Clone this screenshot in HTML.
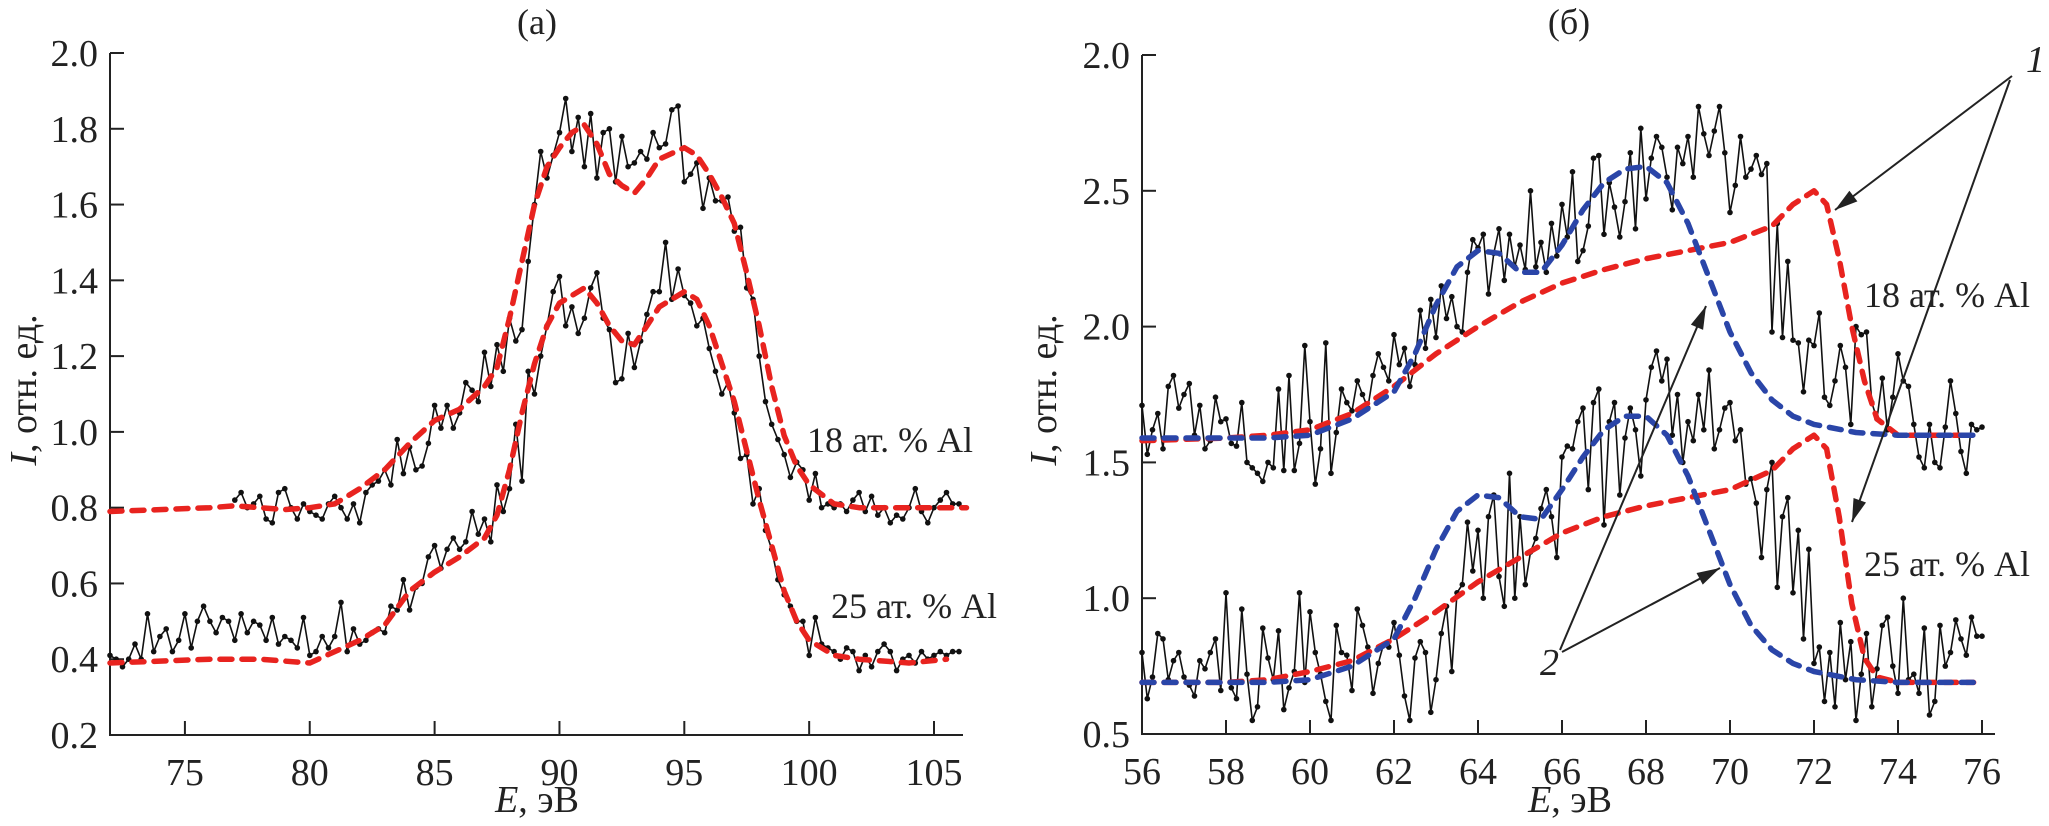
<!DOCTYPE html>
<html><head><meta charset="utf-8">
<style>
html,body{margin:0;padding:0;background:#fff;}
svg{display:block;font-family:"Liberation Serif",serif;}
</style></head>
<body>
<svg id="chart" width="2049" height="826" viewBox="0 0 2049 826" xmlns="http://www.w3.org/2000/svg">
<g id="panelA"></g>
<g id="panelB"></g>
</svg>
<script>
// ---------- Panel (a) data ----------
const aStart18 = 77, aStep = 0.25;
const a18 = [
0.82,0.84,0.80,0.81, 0.83,0.77,0.76,0.84, 0.85,0.80,0.77,0.81, 0.79,0.78,0.77,0.81,
0.83,0.80,0.77,0.81, 0.76,0.84,0.86,0.87, 0.90,0.86,0.98,0.89, 0.96,0.90,0.91,0.97,
1.07,1.01,1.07,1.01, 1.05,1.13,1.11,1.08, 1.21,1.12,1.23,1.16, 1.30,1.24,1.27,1.45,
1.60,1.74,1.67,1.73, 1.79,1.88,1.74,1.83, 1.70,1.84,1.67,1.79, 1.80,1.66,1.78,1.70,
1.71,1.74,1.72,1.79, 1.75,1.76,1.85,1.86, 1.66,1.68,1.71,1.59, 1.67,1.61,1.61,1.62,
1.53,1.54,1.38,1.35, 1.20,1.08,1.02,0.98, 0.94,0.88,0.92,0.90, 0.82,0.89,0.80,0.81,
0.80,0.81,0.79,0.82, 0.84,0.79,0.83,0.78, 0.80,0.76,0.78,0.77, 0.80,0.85,0.79,0.76,
0.80,0.82,0.84,0.81, 0.81];
const aStart25 = 72;
const a25 = [
0.41,0.40,0.38,0.40, 0.44,0.40,0.52,0.42, 0.46,0.48,0.42,0.45, 0.52,0.43,0.50,0.54,
0.50,0.47,0.51,0.50, 0.45,0.52,0.47,0.50, 0.49,0.45,0.51,0.44, 0.46,0.45,0.43,0.51,
0.41,0.42,0.46,0.43, 0.46,0.55,0.42,0.48, 0.44,0.45,0.47,0.48, 0.47,0.54,0.53,0.61,
0.53,0.59,0.60,0.67, 0.70,0.64,0.69,0.72, 0.69,0.71,0.79,0.73, 0.77,0.71,0.86,0.79,
0.85,1.02,0.87,1.16, 1.10,1.20,1.28,1.37, 1.41,1.28,1.33,1.26, 1.30,1.38,1.42,1.30,
1.27,1.13,1.14,1.26, 1.17,1.24,1.31,1.37, 1.37,1.50,1.35,1.43, 1.36,1.34,1.28,1.30,
1.22,1.16,1.10,1.13, 1.05,0.93,0.94,0.81, 0.85,0.74,0.69,0.61, 0.57,0.54,0.50,0.50,
0.41,0.51,0.44,0.43, 0.42,0.40,0.43,0.42, 0.37,0.41,0.38,0.42, 0.44,0.42,0.37,0.40,
0.41,0.39,0.42,0.40, 0.41,0.42,0.41,0.42, 0.42];
const aFit18X = [72,74,76,77,78,79,80,81,82,83,84,85,86,87,87.5,88,88.5,89,89.5,90,90.5,91,91.5,92,92.5,93,93.5,94,95,95.5,96,96.5,97,97.5,98,98.5,99,99.5,100,101,102,104,106.3];
const aFit18Y = [0.79,0.795,0.80,0.805,0.80,0.795,0.80,0.81,0.85,0.90,0.97,1.03,1.06,1.12,1.17,1.30,1.45,1.60,1.70,1.75,1.79,1.81,1.76,1.68,1.65,1.63,1.67,1.72,1.75,1.73,1.68,1.62,1.55,1.42,1.28,1.12,0.99,0.91,0.86,0.81,0.80,0.80,0.80];
const aFit25X = [72,74,76,78,80,81,82,83,84,85,86,87,87.5,88,88.5,89,89.5,90,91,91.5,92,92.5,93,93.5,94,95,95.5,96,96.5,97,97.5,98,98.5,99,99.5,100,101,102,104,105.5];
const aFit25Y = [0.39,0.395,0.40,0.40,0.39,0.42,0.45,0.49,0.58,0.63,0.67,0.72,0.78,0.90,1.05,1.18,1.28,1.34,1.38,1.34,1.28,1.24,1.23,1.28,1.33,1.37,1.35,1.28,1.18,1.08,0.95,0.82,0.70,0.58,0.50,0.45,0.41,0.40,0.39,0.40];
const aXTicks = [75,80,85,90,95,100,105];
const aYTicks = [0.2,0.4,0.6,0.8,1.0,1.2,1.4,1.6,1.8,2.0];
const aYTickLabels = ["0.2","0.4","0.6","0.8","1.0","1.2","1.4","1.6","1.8","2.0"];

// ---------- Panel (б) data ----------
const bStart = 56, bStep = 0.125;
const b18 = [
1.71,1.53,1.62,1.68,1.55,1.78,1.82,1.70, 1.75,1.79,1.60,1.71,1.55,1.58,1.74,1.65,
1.66,1.57,1.56,1.72,1.50,1.48,1.46,1.43, 1.50,1.48,1.77,1.47,1.82,1.47,1.57,1.93,
1.65,1.42,1.55,1.94,1.46,1.61,1.77,1.72, 1.69,1.80,1.75,1.70,1.82,1.90,1.85,1.80,
1.97,1.86,1.92,1.78,1.86,2.06,1.92,2.10, 1.96,2.15,2.03,2.11,2.00,1.98,2.20,2.32,
2.29,2.34,2.12,2.27,2.36,2.17,2.34,2.22, 2.30,2.21,2.50,2.22,2.31,2.20,2.38,2.26,
2.45,2.33,2.57,2.24,2.28,2.37,2.62,2.63, 2.34,2.53,2.44,2.33,2.46,2.64,2.36,2.73,
2.47,2.62,2.70,2.66,2.55,2.43,2.66,2.60, 2.70,2.55,2.81,2.71,2.63,2.72,2.81,2.64,
2.42,2.52,2.70,2.55,2.58,2.63,2.56,2.60, 1.98,2.38,1.96,2.24,1.95,1.94,1.76,1.95,
1.93,2.05,1.74,1.71,1.80,1.93,1.85,1.64, 2.00,1.97,1.98,1.72,1.66,1.81,1.62,1.74,
1.90,1.80,1.78,1.64,1.52,1.48,1.64,1.50, 1.48,1.63,1.80,1.68,1.54,1.46,1.64,1.62, 1.63];
const b25 = [
0.80,0.63,0.71,0.87,0.85,0.70,0.77,0.80, 0.71,0.68,0.64,0.77,0.74,0.80,0.85,0.66,
1.02,0.67,0.63,0.96,0.72,0.55,0.60,0.89, 0.78,0.70,0.88,0.59,0.67,0.73,1.02,0.69,
0.95,0.80,0.72,0.62,0.55,0.90,0.80,0.79, 0.66,0.96,0.90,0.82,0.65,0.76,0.83,0.82,
0.91,0.79,0.64,0.55,0.78,0.84,0.80,0.58, 0.70,0.87,0.97,0.73,1.02,1.05,1.28,1.10,
1.25,1.00,1.30,1.38,1.08,0.97,1.46,1.00, 1.30,1.05,1.17,1.22,1.33,1.40,1.30,1.15,
1.52,1.56,1.55,1.65,1.70,1.40,1.72,1.77, 1.27,1.65,1.72,1.38,1.59,1.70,1.62,1.45,
1.73,1.85,1.91,1.80,1.88,1.60,1.75,1.50, 1.65,1.58,1.75,1.62,1.84,1.55,1.62,1.70,
1.72,1.58,1.62,1.42,1.44,1.35,1.15,1.40, 1.50,1.04,1.30,1.37,1.02,1.25,0.85,1.18,
0.76,0.82,0.62,0.80,0.60,0.91,0.70,0.84, 0.55,0.72,0.87,0.60,0.74,0.90,0.93,0.75,
0.65,1.00,0.70,0.72,0.65,0.89,0.57,0.62, 0.90,0.75,0.80,0.92,0.85,0.79,0.93,0.86, 0.86];
const bRed18X = [56,58,59,60,61,62,63,64,65,66,67,68,69,70,71,71.5,72,72.3,72.6,72.9,73.2,73.5,74,75,75.8];
const bRed18Y = [1.58,1.59,1.60,1.62,1.68,1.78,1.90,2.00,2.09,2.16,2.21,2.25,2.28,2.31,2.37,2.45,2.50,2.45,2.25,2.00,1.80,1.66,1.60,1.60,1.60];
const bBlue18X = [56,59,60,61,62,62.5,63,63.5,64,64.5,65,65.5,66,66.5,67,67.5,68,68.5,69,69.5,70,70.5,71,71.5,72,73,74,75.8];
const bBlue18Y = [1.59,1.59,1.60,1.66,1.76,1.90,2.08,2.22,2.28,2.27,2.20,2.20,2.30,2.43,2.53,2.58,2.59,2.53,2.38,2.18,1.98,1.83,1.73,1.67,1.64,1.61,1.60,1.60];
const bRed25X = [56,58,59,60,61,62,63,64,65,66,67,68,69,70,71,71.5,72,72.3,72.6,72.9,73.2,73.5,74,75.8];
const bRed25Y = [0.69,0.69,0.70,0.73,0.77,0.85,0.95,1.06,1.15,1.24,1.30,1.34,1.37,1.40,1.47,1.55,1.60,1.55,1.30,0.98,0.78,0.71,0.69,0.69];
const bBlue25X = [56,59,60,61,62,62.5,63,63.5,64,64.5,65,65.5,66,66.5,67,67.5,68,68.5,69,69.5,70,70.5,71,71.5,72,73,74,75.8];
const bBlue25Y = [0.69,0.69,0.70,0.75,0.85,1.00,1.18,1.32,1.38,1.37,1.30,1.29,1.40,1.52,1.62,1.67,1.67,1.60,1.45,1.25,1.05,0.90,0.81,0.76,0.73,0.70,0.69,0.69];
const bXTicks = [56,58,60,62,64,66,68,70,72,74,76];
const bYTicks = [0.5,1.0,1.5,2.0,2.5,3.0];
const bYTickLabels = ["0.5","1.0","1.5","2.0","2.5","2.0"];

const NS = "http://www.w3.org/2000/svg";
function mk(parent, tag, attrs, text){
  const el = document.createElementNS(NS, tag);
  for (const k in attrs) el.setAttribute(k, attrs[k]);
  if (text !== undefined) el.textContent = text;
  parent.appendChild(el);
  return el;
}
function pathFrom(xs, ys, sx, sy){
  return xs.map((x,i)=>(i?"L":"M")+sx(x).toFixed(1)+","+sy(ys[i]).toFixed(1)).join(" ");
}
function drawData(g, start, step, vals, sx, sy, name){
  const xs = vals.map((v,i)=>start+i*step);
  const p = mk(g,"path",{d:pathFrom(xs,vals,sx,sy),fill:"none",stroke:"#111","stroke-width":1.6});
  
  
  vals.forEach((v,i)=>{
    const c = mk(g,"circle",{cx:sx(xs[i]).toFixed(1),cy:sy(v).toFixed(1),r:2.8,fill:"#111"});
    
    
  });
}
function drawFit(g, xs, ys, sx, sy, color, name){
  const p = mk(g,"path",{d:pathFrom(xs,ys,sx,sy),fill:"none",stroke:color,"stroke-width":5.5,"stroke-dasharray":"12 10","stroke-linecap":"round","stroke-linejoin":"round"});
  
  
}
function drawAxes(g, L, R, T, B, sx, sy, xt, xl, yt, yl, xlo, name){
  const ax = mk(g,"path",{d:`M${L},${T} L${L},${B} L${R},${B}`,fill:"none",stroke:"#222","stroke-width":2});
  
  
  yt.forEach((v,i)=>{
    const y=sy(v);
    mk(g,"line",{x1:L,y1:y,x2:L+14,y2:y,stroke:"#222","stroke-width":2});
    const t=mk(g,"text",{x:L-12,y:y+13,"text-anchor":"end","font-size":38,fill:"#222"},yl[i]);
    
    
  });
  xt.forEach((v,i)=>{
    const x=sx(v);
    mk(g,"line",{x1:x,y1:B,x2:x,y2:B-14,stroke:"#222","stroke-width":2});
    const t=mk(g,"text",{x:x,y:B+50,"text-anchor":"middle","font-size":38,fill:"#222"},xl[i]);
    
    
  });
}

// ---- Panel a ----
(function(){
  const g=document.getElementById("panelA");
  const L=110,R=963,T=53,B=735;
  const sx=x=>L+(x-72)*24.97;
  const sy=v=>B-(v-0.2)*(B-T)/1.8;
  drawAxes(g,L,R,T,B,sx,sy,aXTicks,aXTicks.map(String),aYTicks,aYTickLabels,72,"panel-a");
  drawData(g,aStart18,aStep,a18,sx,sy,"a-data-18");
  drawData(g,aStart25,aStep,a25,sx,sy,"a-data-25");
  drawFit(g,aFit18X,aFit18Y,sx,sy,"#e8231f","a-fit-18");
  drawFit(g,aFit25X,aFit25Y,sx,sy,"#e8231f","a-fit-25");
})();
// ---- Panel b ----
(function(){
  const g=document.getElementById("panelB");
  const L=1142,R=1995,T=55,B=734;
  const sx=x=>L+(x-56)*42;
  const sy=v=>B-(v-0.5)*(B-T)/2.5;
  drawAxes(g,L,R,T,B,sx,sy,bXTicks,bXTicks.map(String),bYTicks,bYTickLabels,56,"panel-b");
  drawData(g,bStart,bStep,b18,sx,sy,"b-data-18");
  drawData(g,bStart,bStep,b25,sx,sy,"b-data-25");
  drawFit(g,bRed18X,bRed18Y,sx,sy,"#e8231f","b-fit1-18");
  drawFit(g,bBlue18X,bBlue18Y,sx,sy,"#2a45a8","b-fit2-18");
  drawFit(g,bRed25X,bRed25Y,sx,sy,"#e8231f","b-fit1-25");
  drawFit(g,bBlue25X,bBlue25Y,sx,sy,"#2a45a8","b-fit2-25");
})();
</script>
<svg width="0" height="0" style="position:absolute">
</svg>
<script>
(function(){
  const s=document.getElementById("chart");
  const NS="http://www.w3.org/2000/svg";
  function txt(x,y,str,size,name,extra){
    const t=document.createElementNS(NS,"text");
    t.setAttribute("x",x);t.setAttribute("y",y);t.setAttribute("font-size",size);t.setAttribute("fill","#222");
    if(extra) for(const k in extra) t.setAttribute(k,extra[k]);
    t.innerHTML=str;
    
    
    s.appendChild(t);return t;
  }
  txt(537,34,"(а)",36,"panel-a-title",{"text-anchor":"middle"});
  txt(1569,34,"(б)",36,"panel-b-title",{"text-anchor":"middle"});
  txt(537,812,'<tspan font-style="italic">E</tspan>, эВ',38,"panel-a-x-axis-title",{"text-anchor":"middle"});
  txt(1570,812,'<tspan font-style="italic">E</tspan>, эВ',38,"panel-b-x-axis-title",{"text-anchor":"middle"});
  txt(0,0,'<tspan font-style="italic">I</tspan>, отн. ед.',38,"panel-a-y-axis-title",{"text-anchor":"middle","transform":"translate(36,390) rotate(-90)"});
  txt(0,0,'<tspan font-style="italic">I</tspan>, отн. ед.',38,"panel-b-y-axis-title",{"text-anchor":"middle","transform":"translate(1056,390) rotate(-90)"});
  txt(807,452,"18 ат. % Al",36,"label-a-18");
  txt(831,618,"25 ат. % Al",36,"label-a-25");
  txt(1864,307,"18 ат. % Al",36,"label-b-18");
  txt(1864,576,"25 ат. % Al",36,"label-b-25");
  txt(2026,72,"1",38,"curve-label-1",{"font-style":"italic"});
  txt(1540,675,"2",38,"curve-label-2",{"font-style":"italic"});
  function arrow(x1,y1,x2,y2,name){
    const l=document.createElementNS(NS,"line");
    l.setAttribute("x1",x1);l.setAttribute("y1",y1);l.setAttribute("x2",x2);l.setAttribute("y2",y2);
    l.setAttribute("stroke","#222");l.setAttribute("stroke-width",2);
    
    
    s.appendChild(l);
    const a=Math.atan2(y2-y1,x2-x1),L=24,w=0.28;
    const p=document.createElementNS(NS,"polygon");
    p.setAttribute("points",`${x2},${y2} ${x2-L*Math.cos(a-w)},${y2-L*Math.sin(a-w)} ${x2-L*Math.cos(a+w)},${y2-L*Math.sin(a+w)}`);
    p.setAttribute("fill","#222");
    
    
    s.appendChild(p);
  }
  arrow(2012,76,1835,210,"arrow-1-upper");
  arrow(2010,80,1852,522,"arrow-1-lower");
  arrow(1560,650,1706,306,"arrow-2-upper");
  arrow(1562,652,1720,568,"arrow-2-lower");
})();
</script>
</body></html>
